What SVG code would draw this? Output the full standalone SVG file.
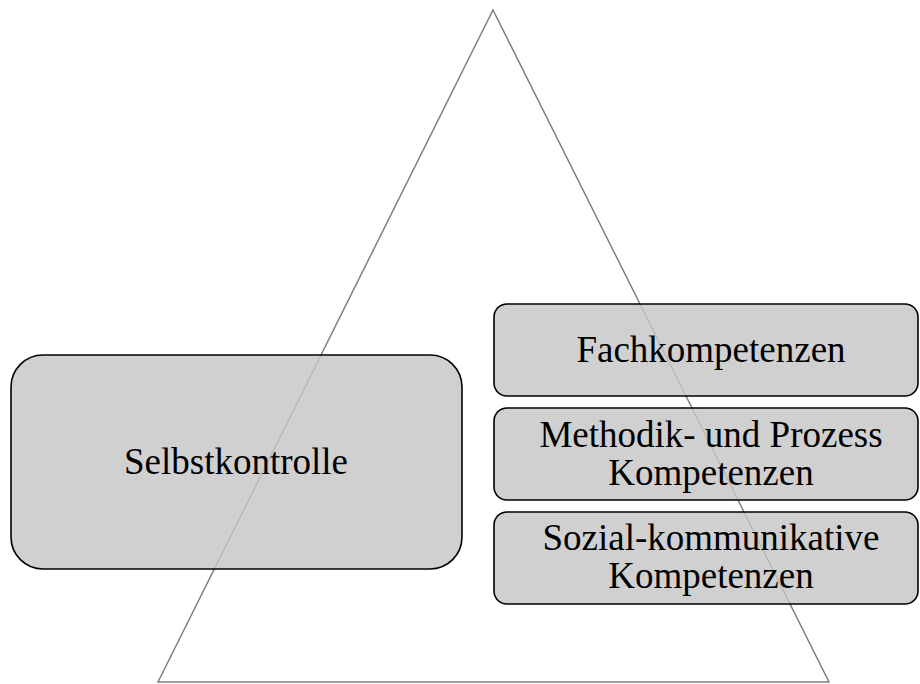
<svg xmlns="http://www.w3.org/2000/svg" width="920" height="684" viewBox="0 0 920 684">
<style>
.box{fill:#c5c5c5;fill-opacity:0.81;stroke:#000;stroke-width:1.6}
.t{font-family:"Liberation Serif","Times New Roman",serif;font-size:37px;fill:#000;text-anchor:middle}
</style>
<rect x="0" y="0" width="920" height="684" fill="#fff"/>
<g id="connectors">
<polygon id="triangle" points="493,10 829,682 158,682" fill="none" stroke="#808080" stroke-width="1.5" stroke-linejoin="miter"/>
</g>
<g id="selbstkontrolle">
<rect class="box" x="11" y="355" width="451" height="214" rx="32" ry="32"/>
<text class="t" x="236" y="474">Selbstkontrolle</text>
</g>
<g id="fachkompetenzen">
<rect class="box" x="494" y="304" width="424" height="92" rx="13" ry="13"/>
<text class="t" x="711" y="362">Fachkompetenzen</text>
</g>
<g id="methodik">
<rect class="box" x="494" y="408" width="424" height="92" rx="13" ry="13"/>
<text class="t" x="711" y="447">Methodik- und Prozess</text>
<text class="t" x="711" y="485">Kompetenzen</text>
</g>
<g id="sozial">
<rect class="box" x="494" y="512" width="424" height="92" rx="13" ry="13"/>
<text class="t" x="711" y="550">Sozial-kommunikative</text>
<text class="t" x="711" y="588">Kompetenzen</text>
</g>
</svg>
